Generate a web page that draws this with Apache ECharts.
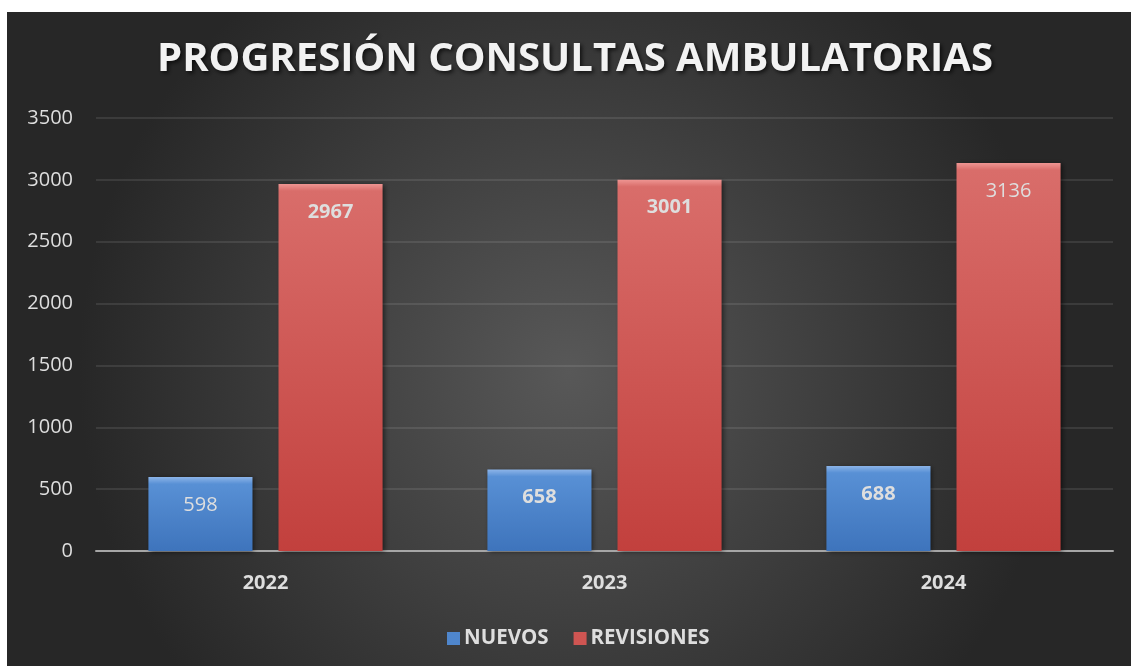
<!DOCTYPE html>
<html>
<head>
<meta charset="utf-8">
<script src="https://cdn.jsdelivr.net/npm/echarts@6/dist/echarts.min.js"></script>
<style>
html,body{margin:0;padding:0;background:#ffffff;width:1131px;height:666px;overflow:hidden;}
#chart{position:absolute;left:7px;top:12px;width:1124px;height:654px;}
</style>
</head>
<body>
<div id="chart"></div>
<script>
const categories = ['2022', '2023', '2024'];
const nuevos = [598, 658, 688];
const revisiones = [2967, 3001, 3136];
const nuevosBold = [false, true, true];
const revisionesBold = [true, true, false];
const yMin = 0, yMax = 3500, yStep = 500;

const font = 'Open Sans';
const txt = '#dedede';
const plotHeight = 654 - 106 - 115;

function bevel(v, top, mid, bottom) {
  const h = Math.max(1, v / (yMax - yMin) * plotHeight);
  const s = Math.min(0.5, 7 / h);
  return new echarts.graphic.LinearGradient(0, 0, 0, 1, [
    {offset: 0, color: top}, {offset: s, color: mid}, {offset: 1, color: bottom}
  ]);
}

function mkData(vals, bold, cols) {
  return vals.map((v, i) => ({
    value: v,
    itemStyle: {color: bevel(v, cols[0], cols[1], cols[2])},
    label: {fontWeight: bold[i] ? 'bold' : 'normal'}
  }));
}
const blueCols = ['#8cb4e8', '#5890d5', '#3e74bc'];
const redCols = ['#ee9592', '#d96d6a', '#c2403d'];

const chart = echarts.init(document.getElementById('chart'), null, {renderer: 'canvas'});
chart.setOption({
  backgroundColor: {
    type: 'radial', x: 0.5, y: 0.55, r: 0.75,
    colorStops: [{offset: 0, color: '#585858'}, {offset: 1, color: '#272727'}]
  },
  animation: false,
  title: {
    text: 'PROGRESIÓN CONSULTAS AMBULATORIAS',
    left: 568, textAlign: 'center', top: 28, padding: 0,
    textStyle: {
      fontFamily: font, fontWeight: 'bold', fontSize: 40, color: '#f2f2f2',
      textShadowColor: 'rgba(0,0,0,0.7)', textShadowBlur: 4, textShadowOffsetX: 2, textShadowOffsetY: 2
    }
  },
  legend: {
    bottom: 17, left: 440, itemWidth: 13, itemHeight: 13, itemGap: 25, padding: 0,
    icon: 'rect',
    textStyle: {fontFamily: font, fontWeight: 'bold', fontSize: 20.5, color: txt, padding: [0, 0, 0, -1]},
    data: [
      {name: 'NUEVOS', itemStyle: {color: '#4f86cc'}},
      {name: 'REVISIONES', itemStyle: {color: '#cf5552'}}
    ]
  },
  grid: {left: 89, right: 18, top: 106, bottom: 115, containLabel: false},
  xAxis: {
    type: 'category', data: categories,
    axisLine: {lineStyle: {color: '#a6a6a6', width: 2}},
    axisTick: {show: false},
    axisLabel: {fontFamily: font, fontWeight: 'bold', fontSize: 20, color: txt, margin: 22}
  },
  yAxis: {
    type: 'value', min: yMin, max: yMax, interval: yStep,
    axisLine: {show: false}, axisTick: {show: false},
    splitLine: {lineStyle: {color: 'rgba(255,255,255,0.13)', width: 1.5}},
    axisLabel: {fontFamily: font, fontSize: 20, color: txt, margin: 23, formatter: v => String(v)}
  },
  series: [
    {
      name: 'NUEVOS', type: 'bar', data: mkData(nuevos, nuevosBold, blueCols),
      barWidth: '30.7%', barGap: '25%',
      itemStyle: {color: '#4f86cc', shadowColor: 'rgba(0,0,0,0.55)', shadowBlur: 5, shadowOffsetX: 2, shadowOffsetY: 1},
      label: {show: true, position: 'insideTop', distance: 18, fontFamily: font, fontSize: 20, color: txt}
    },
    {
      name: 'REVISIONES', type: 'bar', data: mkData(revisiones, revisionesBold, redCols),
      barWidth: '30.7%', barGap: '25%',
      itemStyle: {color: '#cf5552', shadowColor: 'rgba(0,0,0,0.55)', shadowBlur: 5, shadowOffsetX: 2, shadowOffsetY: 1},
      label: {show: true, position: 'insideTop', distance: 18, fontFamily: font, fontSize: 20, color: txt}
    }
  ]
});
</script>
</body>
</html>
